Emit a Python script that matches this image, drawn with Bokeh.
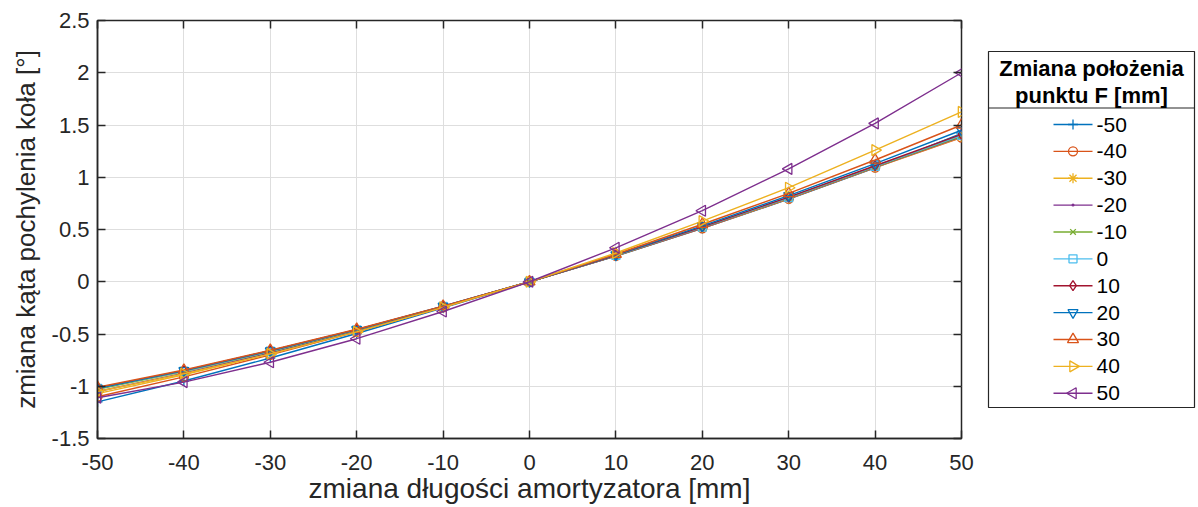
from bokeh.plotting import figure
from bokeh.models import Range1d, FixedTicker, LinearAxis, ColumnDataSource
from bokeh.layouts import row
from bokeh.core.properties import value
from bokeh.embed import file_html
from bokeh.resources import INLINE
import math

# ---------------- data ----------------
x_vals = [-50, -40, -30, -20, -10, 0, 10, 20, 30, 40, 50]
f_labels = ["-50", "-40", "-30", "-20", "-10", "0", "10", "20", "30", "40", "50"]

y_m50 = [-1.15, -0.95, -0.73, -0.495, -0.250, 0, 0.245, 0.510, 0.790, 1.090, 1.420]
y_m40 = [-1.10, -0.91, -0.70, -0.480, -0.245, 0, 0.247, 0.512, 0.793, 1.092, 1.380]
y_m30 = [-1.07, -0.89, -0.69, -0.475, -0.242, 0, 0.248, 0.515, 0.797, 1.095, 1.385]
y_m20 = [-1.05, -0.875, -0.68, -0.470, -0.240, 0, 0.249, 0.517, 0.800, 1.098, 1.390]
y_m10 = [-1.03, -0.86, -0.67, -0.465, -0.238, 0, 0.250, 0.520, 0.803, 1.100, 1.395]
y_0 = [-1.02, -0.855, -0.665, -0.460, -0.235, 0, 0.252, 0.522, 0.806, 1.105, 1.400]
y_10 = [-1.015, -0.85, -0.66, -0.458, -0.235, 0, 0.254, 0.525, 0.810, 1.110, 1.410]
y_20 = [-1.02, -0.85, -0.66, -0.458, -0.234, 0, 0.258, 0.535, 0.825, 1.130, 1.450]
y_30 = [-1.01, -0.845, -0.655, -0.455, -0.233, 0, 0.263, 0.550, 0.845, 1.165, 1.500]
y_40 = [-1.05, -0.88, -0.69, -0.480, -0.245, 0, 0.275, 0.580, 0.900, 1.260, 1.625]
y_50 = [-1.11, -0.96, -0.77, -0.545, -0.285, 0, 0.325, 0.680, 1.080, 1.515, 2.000]

series = [y_m50, y_m40, y_m30, y_m20, y_m10, y_0, y_10, y_20, y_30, y_40, y_50]

x_ticks = [-50, -40, -30, -20, -10, 0, 10, 20, 30, 40, 50]
x_tick_labels = ["-50", "-40", "-30", "-20", "-10", "0", "10", "20", "30", "40", "50"]
y_ticks = [-1.5, -1, -0.5, 0, 0.5, 1, 1.5, 2, 2.5]
y_tick_labels = ["-1.5", "-1", "-0.5", "0", "0.5", "1", "1.5", "2", "2.5"]

legend_title = ["Zmiana położenia", "punktu F [mm]"]
x_label = "zmiana długości amortyzatora [mm]"
y_label = "zmiana kąta pochylenia koła [°]"

# ---------------- styles ----------------
colors = ["#0072BD", "#D95319", "#EDB120", "#7E2F8E", "#77AC30", "#4DBEEE",
          "#A2142F", "#0072BD", "#D95319", "#EDB120", "#7E2F8E"]
markers = ["cross", "circle", "asterisk", "dot", "x", "square",
           "diamond", "inverted_triangle", "triangle", "triangle", "triangle"]
angles = [0, 0, 0, 0, 0, 0, 0, 0, 0, -math.pi / 2, math.pi / 2]
sizes = [10, 9, 10, 12, 8, 8, 10, 10, 11, 11, 11]

FONT = value("Liberation Sans")
TXT = "#262626"

p = figure(width=975, height=507, x_range=Range1d(-50, 50), y_range=Range1d(-1.5, 2.5),
           output_backend="svg", toolbar_location=None,
           min_border_left=97, min_border_right=14, min_border_top=20, min_border_bottom=69)
p.background_fill_color = "white"
p.border_fill_color = "white"
p.outline_line_color = TXT
p.outline_line_width = 1.5

p.xaxis.ticker = FixedTicker(ticks=x_ticks)
p.yaxis.ticker = FixedTicker(ticks=y_ticks)
p.xaxis.major_label_overrides = {float(t): l for t, l in zip(x_ticks, x_tick_labels)}
p.yaxis.major_label_overrides = {float(t): l for t, l in zip(y_ticks, y_tick_labels)}
p.xgrid.ticker = FixedTicker(ticks=x_ticks)
p.ygrid.ticker = FixedTicker(ticks=y_ticks)

for ax in (p.xaxis[0], p.yaxis[0]):
    ax.major_tick_in = 8
    ax.major_tick_out = 0
    ax.minor_tick_line_color = None
    ax.major_tick_line_color = TXT
    ax.major_tick_line_width = 1.5
    ax.axis_line_color = TXT
    ax.axis_line_width = 1.5
    ax.major_label_text_font = "Liberation Sans"
    ax.major_label_text_font_size = "22px"
    ax.major_label_text_color = TXT
    ax.axis_label_text_font = "Liberation Sans"
    ax.axis_label_text_font_style = "normal"
    ax.axis_label_text_color = TXT

p.xaxis.axis_label = x_label
p.yaxis.axis_label = y_label
p.xaxis.axis_label_text_font_size = "28px"
p.yaxis.axis_label_text_font_size = "26px"
p.xaxis.major_label_standoff = 16
p.xaxis.axis_label_standoff = 0
p.yaxis.major_label_standoff = 8
p.yaxis.axis_label_standoff = 8

# box ticks on top and right
for loc, tk in (("above", x_ticks), ("right", y_ticks)):
    ax = LinearAxis(ticker=FixedTicker(ticks=tk), major_tick_in=8, major_tick_out=0,
                    major_tick_line_color=TXT, major_tick_line_width=1.5,
                    minor_tick_line_color=None, axis_line_color=None,
                    major_label_text_font_size="1px", major_label_text_color=None,
                    major_label_standoff=0)
    p.add_layout(ax, loc)

p.grid.grid_line_color = "#dedede"
p.grid.grid_line_width = 1

for ys, c, m, a, s in zip(series, colors, markers, angles, sizes):
    p.line(x_vals, ys, line_color=c, line_width=1.4)
    p.scatter(x_vals, ys, marker=m, size=s, angle=a, line_color=c, fill_color=None,
              line_width=1.3)

# ---------------- legend panel ----------------
# the row aligns this frame with the main frame (page rows 20..438), so the
# y range is expressed in page pixels
leg = figure(width=223, height=507, x_range=Range1d(0, 223), y_range=Range1d(438, 20),
             output_backend="svg", toolbar_location=None, min_border=0,
             x_axis_location=None, y_axis_location=None)
leg.grid.visible = False
leg.outline_line_color = None
leg.background_fill_color = "white"
leg.border_fill_color = "white"

leg.quad(left=[13], right=[219], top=[51], bottom=[407], fill_color="white",
         line_color=TXT, line_width=1.2)
leg.segment(x0=[13], y0=[107.5], x1=[219], y1=[107.5], line_color=TXT, line_width=1.2)
leg.text(x=[116, 116], y=[68, 95], text=legend_title, text_font=FONT,
         text_font_style="bold", text_font_size="22px", text_align="center",
         text_baseline="middle", text_color="black")

item_y = [124 + i * 26.87 for i in range(len(f_labels))]
src = ColumnDataSource(dict(y=item_y, c=colors, lab=f_labels))
leg.segment(x0=78, x1=117, y0="y", y1="y", line_color="c", line_width=1.4, source=src)
for yy, c, m, a, s in zip(item_y, colors, markers, angles, sizes):
    leg.scatter([97.5], [yy], marker=m, size=s, angle=a, line_color=c, fill_color=None,
                line_width=1.3)
leg.text(x=121, y="y", text="lab", text_font=FONT, text_font_size="21px",
         text_baseline="middle", text_align="left", text_color="black", source=src)

layout = row(p, leg)
open("out.html", "w").write(file_html(layout, INLINE))
